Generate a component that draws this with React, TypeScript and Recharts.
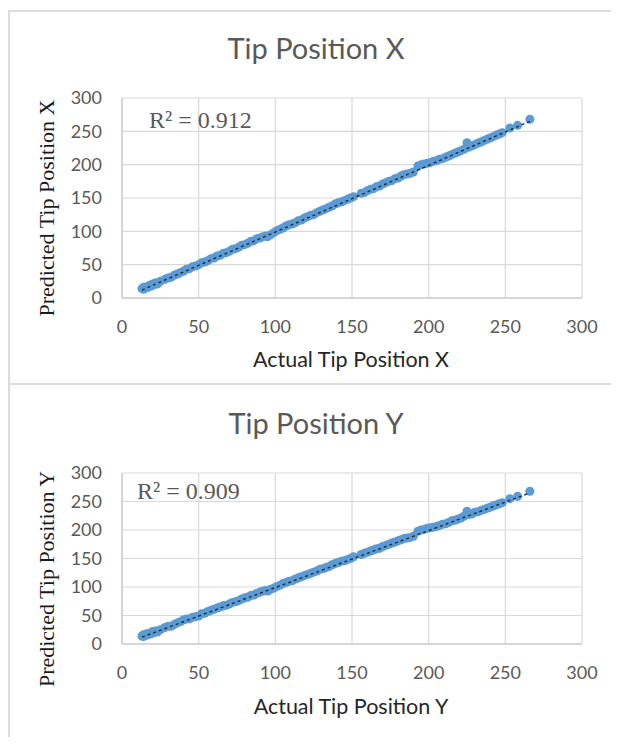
import React from 'react';
import { ScatterChart, Scatter, XAxis, YAxis, ZAxis, CartesianGrid } from 'recharts';

const axisTicks = [0, 50, 100, 150, 200, 250, 300];

const actualX = [
  13, 14, 14, 15, 16, 17, 18, 19, 20, 21,
  22, 23, 25, 28, 30, 32, 34, 36, 38, 40,
  42, 44, 46, 48, 50, 52, 54, 56, 58, 60,
  62, 64, 66, 68, 70, 72, 74, 76, 78, 80,
  82, 84, 86, 88, 90, 92, 94, 95, 97, 99,
  101, 103, 105, 107, 109, 111, 113, 115, 117, 119,
  121, 123, 125, 127, 129, 131, 133, 135, 137, 139,
  141, 143, 145, 147, 149, 151, 156, 158, 160, 162,
  164, 166, 168, 170, 172, 174, 176, 178, 180, 182,
  184, 186, 188, 190, 193, 195, 197, 199, 201, 203,
  205, 207, 209, 211, 213, 215, 217, 219, 221, 223,
  225, 226, 228, 230, 232, 234, 236, 238, 240, 242,
  244, 246, 248, 253, 258, 266,
];
const predictedX = [
  14, 13, 16, 15, 17, 16, 19, 18, 21, 20,
  23, 21, 25, 28, 30, 31, 34, 36, 38, 40,
  43, 44, 47, 48, 50, 53, 54, 56, 59, 60,
  63, 64, 67, 68, 70, 73, 74, 76, 79, 80,
  82, 85, 86, 89, 90, 92, 93, 92, 95, 98,
  101, 103, 105, 108, 110, 111, 113, 116, 117, 120,
  122, 124, 125, 128, 130, 132, 134, 136, 138, 141,
  143, 144, 146, 148, 150, 152, 157, 158, 161, 163,
  164, 167, 168, 171, 173, 175, 176, 179, 180, 183,
  185, 186, 187, 189, 198, 200, 201, 202, 203, 205,
  206, 208, 209, 211, 213, 215, 217, 219, 221, 223,
  233, 226, 228, 230, 232, 234, 236, 238, 240, 242,
  244, 246, 248, 255, 259, 268,
];

const actualY = [
  13, 14, 14, 15, 16, 17, 18, 19, 20, 21,
  22, 23, 25, 28, 30, 32, 34, 36, 38, 40,
  42, 44, 46, 48, 50, 52, 54, 56, 58, 60,
  62, 64, 66, 68, 70, 72, 74, 76, 78, 80,
  82, 84, 86, 88, 90, 92, 94, 95, 97, 99,
  101, 103, 105, 107, 109, 111, 113, 115, 117, 119,
  121, 123, 125, 127, 129, 131, 133, 135, 137, 139,
  141, 143, 145, 147, 149, 151, 156, 158, 160, 162,
  164, 166, 168, 170, 172, 174, 176, 178, 180, 182,
  184, 186, 188, 190, 193, 195, 197, 199, 201, 203,
  205, 207, 209, 211, 213, 215, 217, 219, 221, 223,
  225, 226, 228, 230, 232, 234, 236, 238, 240, 242,
  244, 246, 248, 253, 258, 266,
];
const predictedY = [
  14, 13, 16, 15, 18, 16, 19, 18, 22, 20,
  23, 21, 25, 29, 31, 31, 34, 37, 39, 42,
  44, 44, 47, 48, 49, 53, 54, 57, 59, 61,
  63, 65, 67, 68, 70, 73, 74, 76, 79, 81,
  82, 85, 86, 89, 91, 93, 94, 93, 96, 98,
  101, 103, 106, 108, 110, 111, 114, 116, 118, 120,
  122, 124, 126, 128, 131, 132, 134, 136, 139, 141,
  143, 145, 146, 148, 150, 153, 157, 159, 161, 163,
  165, 167, 168, 171, 173, 175, 177, 179, 181, 183,
  185, 186, 187, 189, 198, 200, 201, 203, 204, 205,
  206, 208, 210, 211, 213, 216, 217, 219, 221, 224,
  233, 227, 228, 231, 232, 234, 236, 238, 240, 242,
  244, 246, 248, 255, 259, 268,
];

const trendX = [{ x: 13, y: 12 }, { x: 266, y: 265 }];
const trendY = [{ x: 13, y: 12 }, { x: 266, y: 265 }];

const SANS = 'Lato, "Open Sans", sans-serif';
const SERIF = '"Liberation Serif", "DejaVu Serif", serif';

type PanelProps = {
  title: string;
  xTitle: string;
  yTitle: string;
  r2: string;
  actual: number[];
  predicted: number[];
  trend: { x: number; y: number }[];
  top: number;
  height: number;
  marginTop: number;
  plotHeight: number;
  titleY: number;
  r2X: number;
  r2Y: number;
  xTitleY: number;
  yTitleY: number;
};

const NoShape = () => null;

function Panel(p: PanelProps) {
  const data = p.actual.map((a, i) => ({ x: a, y: p.predicted[i] }));
  const width = 611;
  const xAxisHeight = p.height - p.marginTop - p.plotHeight;
  return (
    <div style={{ position: 'absolute', left: 0, top: p.top, width, height: p.height }}>
      <ScatterChart
        width={width}
        height={p.height}
        margin={{ top: p.marginTop, right: 37, left: 0, bottom: 0 }}
      >
        <CartesianGrid stroke="#d9d9d9" strokeWidth={1.2} />
        <XAxis
          type="number"
          dataKey="x"
          domain={[0, 300]}
          ticks={axisTicks}
          height={xAxisHeight}
          axisLine={{ stroke: '#cfcfcf', strokeWidth: 1.5 }}
          tickLine={false}
          tickSize={0}
          tickMargin={22}
          tick={{ fill: '#595959', fontSize: 18, fontFamily: SANS }}
          allowDataOverflow
        />
        <YAxis
          type="number"
          dataKey="y"
          domain={[0, 300]}
          ticks={axisTicks}
          width={114}
          axisLine={{ stroke: '#cfcfcf', strokeWidth: 1.5 }}
          tickLine={false}
          tickSize={0}
          tickMargin={20}
          tick={{ fill: '#595959', fontSize: 18, fontFamily: SANS }}
          allowDataOverflow
        />
        <ZAxis range={[38, 38]} />
        <Scatter data={data} fill="#5b9bd5" isAnimationActive={false} />
        <Scatter
          data={p.trend}
          line={{ stroke: '#1f2a36', strokeWidth: 1.4, strokeDasharray: '3 3' }}
          shape={NoShape}
          isAnimationActive={false}
        />
      </ScatterChart>
      <svg
        width={width}
        height={p.height}
        style={{ position: 'absolute', left: 0, top: 0, pointerEvents: 'none' }}
      >
        <text x={308} y={p.titleY} textAnchor="middle" fontFamily={SANS} fontSize={29} fill="#595959">
          {p.title}
        </text>
        <text x={p.r2X} y={p.r2Y} fontFamily={SERIF} fontSize={24} fill="#595959">
          {p.r2}
        </text>
        <text x={343} y={p.xTitleY} textAnchor="middle" fontFamily={SANS} fontSize={21.5} fill="#262626">
          {p.xTitle}
        </text>
        <text
          x={46}
          y={p.yTitleY}
          textAnchor="middle"
          fontFamily={SERIF}
          fontSize={22}
          fill="#1a1a1a"
          transform={`rotate(-90 46 ${p.yTitleY})`}
        >
          {p.yTitle}
        </text>
      </svg>
    </div>
  );
}

export default function App() {
  return (
    <div style={{ position: 'relative', width: 611, height: 729, background: '#fff' }}>
      <div style={{ position: 'absolute', left: 0, top: 2, width: 611, height: 2, background: '#dcdcdc' }} />
      <div style={{ position: 'absolute', left: 0, top: 2, width: 2, height: 735, background: '#dcdcdc' }} />
      <div style={{ position: 'absolute', left: 0, top: 375, width: 611, height: 2, background: '#dcdcdc' }} />
      <Panel
        title="Tip Position X"
        xTitle="Actual Tip Position X"
        yTitle="Predicted Tip Position X"
        r2="R² = 0.912"
        actual={actualX}
        predicted={predictedX}
        trend={trendX}
        top={2}
        height={374}
        marginTop={88}
        plotHeight={200}
        titleY={49}
        r2X={141}
        r2Y={118}
        xTitleY={357}
        yTitleY={198}
      />
      <Panel
        title="Tip Position Y"
        xTitle="Actual Tip Position Y"
        yTitle="Predicted Tip Position Y"
        r2="R² = 0.909"
        actual={actualY}
        predicted={predictedY}
        trend={trendY}
        top={376}
        height={361}
        marginTop={89}
        plotHeight={171}
        titleY={50}
        r2X={129}
        r2Y={115}
        xTitleY={330}
        yTitleY={195}
      />
    </div>
  );
}
